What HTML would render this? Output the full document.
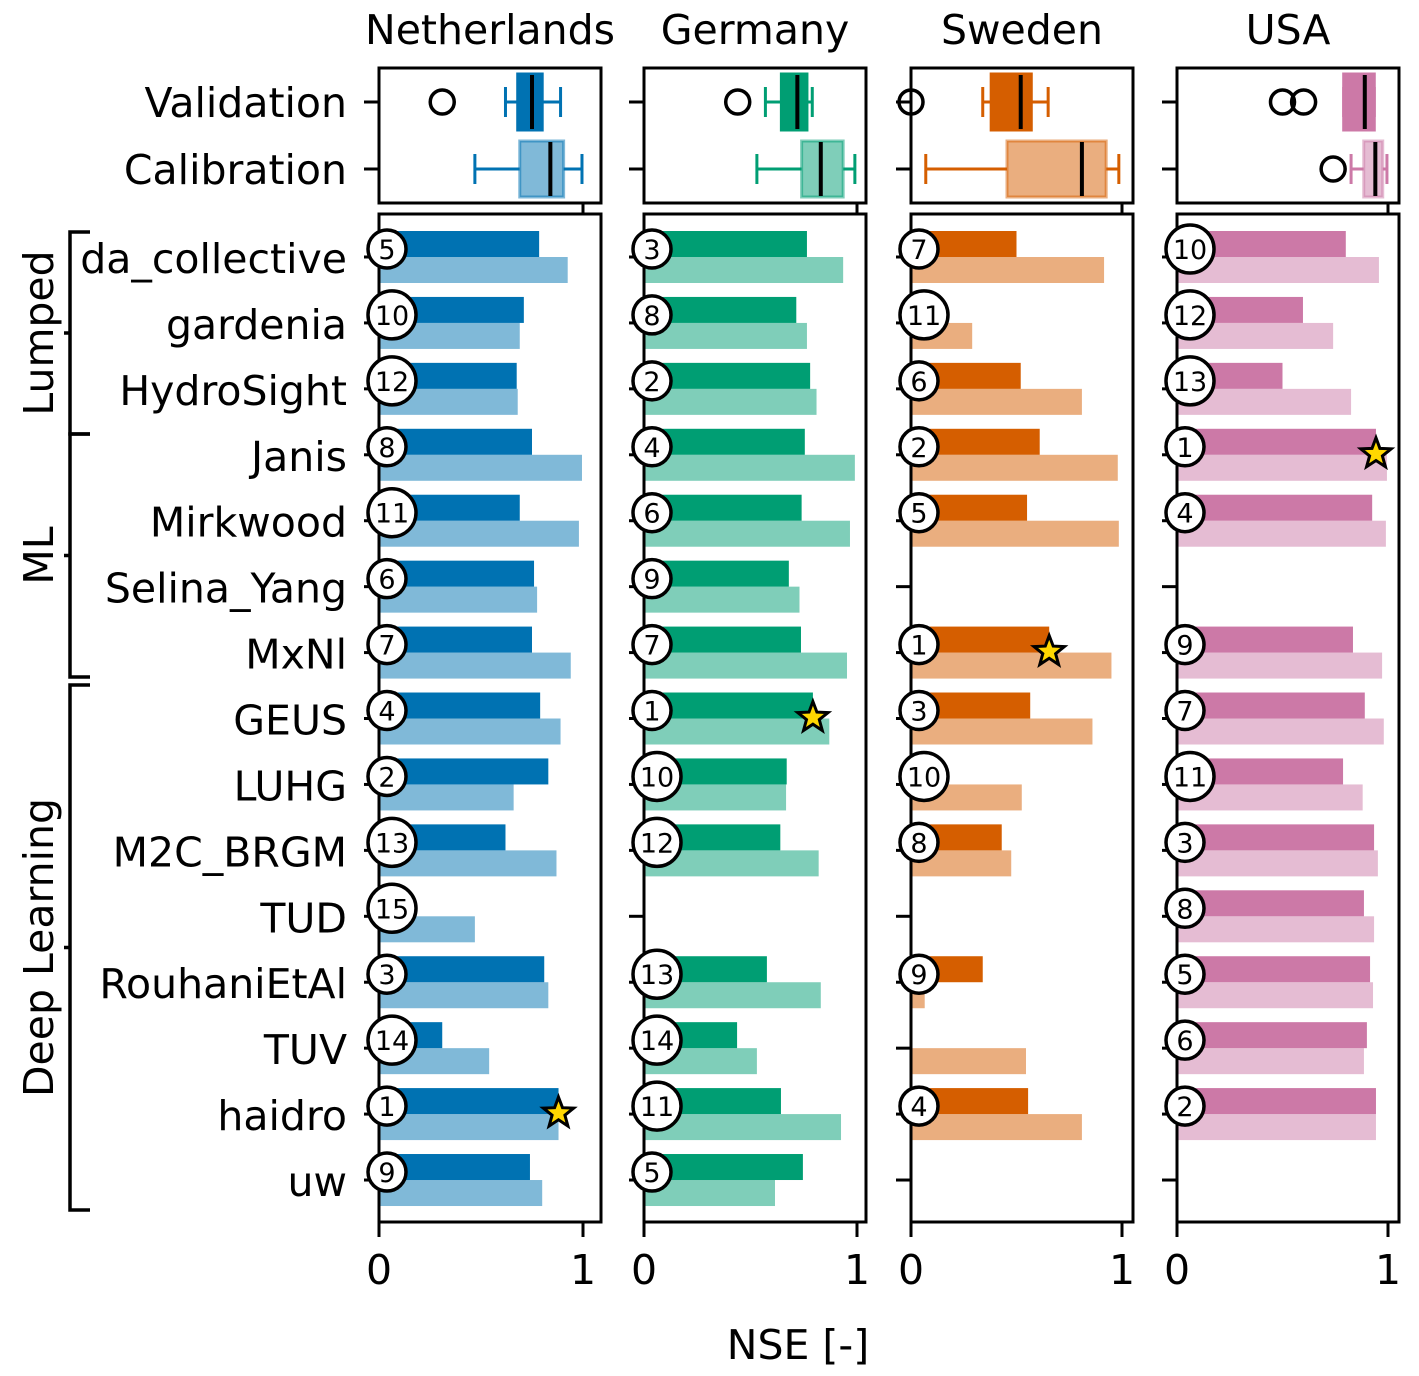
<!DOCTYPE html>
<html><head><meta charset="utf-8"><style>
body{margin:0;background:#fff;}
svg{display:block;font-family:"DejaVu Sans","Liberation Sans",sans-serif;}
</style></head><body>
<svg id="chart" width="1419" height="1376" viewBox="0 0 1419 1376" xmlns="http://www.w3.org/2000/svg"></svg>
<script>
const models = ["da_collective","gardenia","HydroSight","Janis","Mirkwood","Selina_Yang","MxNl","GEUS","LUHG","M2C_BRGM","TUD","RouhaniEtAl","TUV","haidro","uw"];
const countries = ["Netherlands","Germany","Sweden","USA"];
const valNL = [0.785,0.71,0.675,0.75,0.69,0.76,0.75,0.79,0.83,0.62,null,0.81,0.31,0.88,0.74];
const calNL = [0.925,0.69,0.68,0.995,0.98,0.775,0.94,0.89,0.66,0.87,0.47,0.83,0.54,0.88,0.80];
const rankNL = [5,10,12,8,11,6,7,4,2,13,15,3,14,1,9];
const valDE = [0.765,0.715,0.78,0.755,0.74,0.68,0.737,0.793,0.67,0.64,null,0.577,0.437,0.643,0.746];
const calDE = [0.935,0.765,0.81,0.99,0.967,0.73,0.953,0.87,0.667,0.82,null,0.83,0.53,0.925,0.615];
const rankDE = [3,8,2,4,6,9,7,1,10,12,null,13,14,11,5];
const valSE = [0.50,null,0.52,0.61,0.55,null,0.655,0.565,null,0.43,null,0.34,null,0.555,null];
const calSE = [0.915,0.29,0.81,0.98,0.985,null,0.95,0.86,0.525,0.475,null,0.065,0.545,0.81,null];
const rankSE = [7,11,6,2,5,null,1,3,10,8,null,9,null,4,null];
const valUS = [0.80,0.597,0.50,0.943,0.925,null,0.834,0.89,0.787,0.934,0.886,0.915,0.90,0.943,null];
const calUS = [0.957,0.74,0.825,0.995,0.99,null,0.972,0.98,0.88,0.952,0.934,0.929,0.886,0.943,null];
const rankUS = [10,12,13,1,4,null,9,7,11,3,8,5,6,2,null];
// box stats: [whiskLo, q1, median, q3, whiskHi]
const boxValNL=[0.62,0.68,0.75,0.80,0.89], boxCalNL=[0.47,0.69,0.84,0.905,0.995];
const boxValDE=[0.57,0.645,0.72,0.765,0.79], boxCalDE=[0.53,0.74,0.83,0.935,0.99];
const boxValSE=[0.34,0.38,0.52,0.57,0.65], boxCalSE=[0.07,0.455,0.81,0.925,0.985];
const boxValUS=[0.79,0.79,0.89,0.935,0.935], boxCalUS=[0.825,0.885,0.94,0.975,0.995];
const outValNL=[0.31], outCalNL=[];
const outValDE=[0.44], outCalDE=[];
const outValSE=[0.0], outCalSE=[];
const outValUS=[0.50,0.60], outCalUS=[0.74];

const NS="http://www.w3.org/2000/svg";
const svg=document.getElementById('chart');
function mk(tag,attrs,parent){const e=document.createElementNS(NS,tag);for(const k in attrs)e.setAttribute(k,attrs[k]);(parent||svg).appendChild(e);return e;}

const FS=41;
const panels=[
 {x0:379,s:204,dark:"#0072b2",light:"#80b9d8",val:valNL,cal:calNL,rank:rankNL,bv:boxValNL,bc:boxCalNL,ov:outValNL,oc:outCalNL},
 {x0:644,s:213,dark:"#009e73",light:"#7fceb9",val:valDE,cal:calDE,rank:rankDE,bv:boxValDE,bc:boxCalDE,ov:outValDE,oc:outCalDE},
 {x0:911,s:211,dark:"#d55e00",light:"#eaae7f",val:valSE,cal:calSE,rank:rankSE,bv:boxValSE,bc:boxCalSE,ov:outValSE,oc:outCalSE},
 {x0:1177,s:211,dark:"#cc79a7",light:"#e5bcd3",val:valUS,cal:calUS,rank:rankUS,bv:boxValUS,bc:boxCalUS,ov:outValUS,oc:outCalUS}
];
const W=222, rowY0=257, rowStep=65.93;
function yRow(i){return rowY0+i*rowStep;}

models.forEach((m,i)=>{
  const t=mk('text',{x:347,y:yRow(i)+16,'text-anchor':'end','font-size':FS,fill:'#000'});
  
  
  t.textContent=m;
});
mk('text',{x:347,y:117,'text-anchor':'end','font-size':FS}).textContent='Validation';
mk('text',{x:347,y:184,'text-anchor':'end','font-size':FS}).textContent='Calibration';

const groups=[["Lumped",232,434],["ML",434,677],["Deep Learning",685,1210]];
groups.forEach(g=>{
  const gg=mk('g',{});
  
  
  mk('path',{d:`M90 ${g[1]} H70 V${g[2]} H90 M70 ${(g[1]+g[2])/2} H64`,stroke:'#000','stroke-width':3.5,fill:'none'},gg);
  const cy=(g[1]+g[2])/2;
  mk('text',{x:0,y:0,transform:`translate(53 ${cy}) rotate(-90)`,'text-anchor':'middle','font-size':FS},gg).textContent=g[0];
});

function star(cx,cy,R,parent){let p='';for(let k=0;k<10;k++){const r=k%2?R*0.42:R;const a=-Math.PI/2+k*Math.PI/5;p+=(k?'L':'M')+(cx+r*Math.cos(a)).toFixed(1)+' '+(cy+r*Math.sin(a)).toFixed(1);}return mk('path',{d:p+'Z',fill:'#ffd700',stroke:'#000','stroke-width':3,'stroke-linejoin':'miter'},parent);}

panels.forEach((p,pi)=>{
  const X=v=>p.x0+v*p.s;
  const g=mk('g',{});
  
  
  const t=mk('text',{x:p.x0+W/2,y:44,'text-anchor':'middle','font-size':FS},g);
  
  
  t.textContent=countries[pi];
  mk('rect',{x:p.x0,y:68,width:W,height:135,fill:'none',stroke:'#000','stroke-width':3},g);
  mk('path',{d:`M${p.x0-15} 102 H${p.x0} M${p.x0-15} 169 H${p.x0} M${X(1)} 203 V213`,stroke:'#000','stroke-width':3},g);
  [[p.bv,102,p.dark,p.dark,1,p.ov],[p.bc,169,p.light,p.dark,0.5,p.oc]].forEach(([b,cy,fill,ec,eo,outs],bi)=>{
    const bx=mk('g',{},g);
    
    
    mk('path',{d:`M${X(b[0])} ${cy} H${X(b[1])} M${X(b[3])} ${cy} H${X(b[4])} M${X(b[0])} ${cy-15} V${cy+15} M${X(b[4])} ${cy-15} V${cy+15}`,stroke:p.dark,'stroke-width':3,fill:'none'},bx);
    mk('rect',{x:X(b[1]),y:cy-28,width:X(b[3])-X(b[1]),height:56,fill:fill,stroke:ec,'stroke-opacity':eo,'stroke-width':3},bx);
    mk('path',{d:`M${X(b[2])} ${cy-27} V${cy+27}`,stroke:'#000','stroke-width':4},bx);
    outs.forEach(o=>{const c=mk('circle',{cx:X(o),cy:cy,r:12,fill:'none',stroke:'#000','stroke-width':3.5},bx);
      
      });
  });
  models.forEach((m,i)=>{
    const y=yRow(i);
    mk('path',{d:`M${p.x0-15} ${y} H${p.x0}`,stroke:'#000','stroke-width':3},g);
    if(p.cal[i]!=null){const r=mk('rect',{x:p.x0,y:y,width:p.cal[i]*p.s,height:26,fill:p.light},g);
      
      }
    if(p.val[i]!=null){const r=mk('rect',{x:p.x0,y:y-26,width:p.val[i]*p.s,height:26,fill:p.dark},g);
      
      }
  });
  mk('rect',{x:p.x0,y:214,width:W,height:1008,fill:'none',stroke:'#000','stroke-width':3},g);
  models.forEach((m,i)=>{
    const y=yRow(i);
    if(p.rank[i]!=null){
      const two=p.rank[i]>=10;const r=two?24:19;
      const cg=mk('g',{},g);
      
      
      mk('circle',{cx:p.x0-11+r,cy:y-8,r:r,fill:'#fff',stroke:'#000','stroke-width':3.5},cg);
      mk('text',{x:p.x0-11+r,y:y+2,'text-anchor':'middle','font-size':27},cg).textContent=p.rank[i];
      if(p.rank[i]===1){const s=star(X(p.val[i]),y-1,16,g);
        
        }
    }
  });
  [0,1].forEach(v=>{
    mk('path',{d:`M${X(v)} 1222 V1237`,stroke:'#000','stroke-width':3},g);
    const tl=mk('text',{x:X(v),y:1284,'text-anchor':'middle','font-size':FS},g);
    
    
    tl.textContent=v;
  });
});
const xl=mk('text',{x:798,y:1359,'text-anchor':'middle','font-size':FS});


xl.textContent='NSE [-]';
</script>
</body></html>
